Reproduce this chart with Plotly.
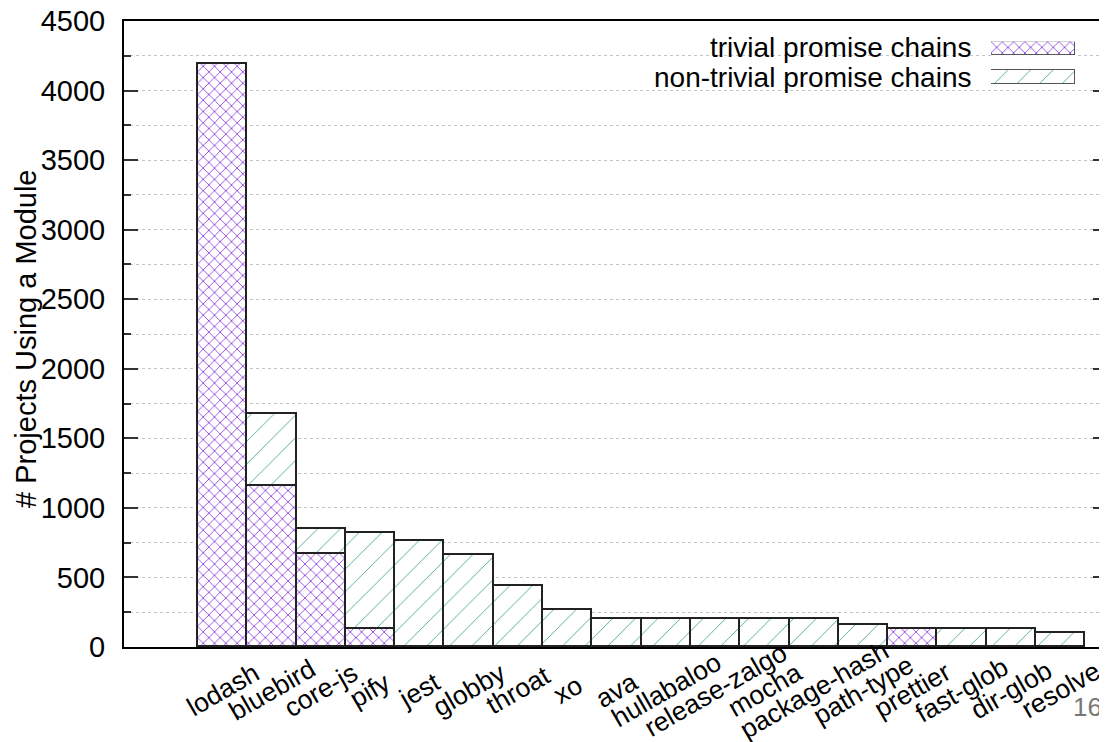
import plotly.graph_objects as go

modules = ["lodash", "bluebird", "core-js", "pify", "jest", "globby", "throat", "xo",
           "ava", "hullabaloo", "release-zalgo", "mocha", "package-hash", "path-type",
           "prettier", "fast-glob", "dir-glob", "resolve"]
trivial = [4190, 1160, 670, 128, 0, 0, 0, 0, 0, 0, 0, 0, 0, 0, 130, 0, 0, 3]
non_trivial = [0, 517, 181, 694, 765, 662, 435, 265, 203, 203, 203, 203, 203, 156, 0, 128, 128, 101]
series_names = ["trivial promise chains", "non-trivial promise chains"]
y_ticks = [0, 500, 1000, 1500, 2000, 2500, 3000, 3500, 4000, 4500]
y_title = "# Projects Using a Module"
page_number = "16"

FONT = "Liberation Sans, Arial, Helvetica, sans-serif"
PURPLE = "#8c3cdc"
GREEN = "#55ad98"

# the page body adds an 8px offset; positions below are in screen pixels
OFF = 8
W, H = 1107 - OFF, 742 - OFF
L = 124 - OFF
T = 21 - OFF
BOT = 647 - OFF
B = H - BOT
R = 0
PW, PH = W - L - R, H - T - B


def px_x(p):
    return (p - OFF - L) / PW


def px_y(p):
    return (BOT - (p - OFF)) / PH


fig = go.Figure()

outline = dict(color="#222222", width=1.6)
pat_triv = dict(shape="x", fgcolor=PURPLE, bgcolor="white", size=8, solidity=0.2, fillmode="replace")
pat_non = dict(shape="/", fgcolor=GREEN, bgcolor="white", size=16, solidity=0.06, fillmode="replace")

fig.add_trace(go.Bar(x=modules, y=trivial, name=series_names[0], width=1,
                     marker=dict(color="white", line=outline, pattern=pat_triv)))
fig.add_trace(go.Bar(x=modules, y=non_trivial, name=series_names[1], width=1,
                     marker=dict(color="white", line=outline, pattern=pat_non)))

# legend swatches drawn on a small overlay axis
sw_x0, sw_x1 = 991, 1075
sw_top, sw_bot = 41.7, 84
span = sw_bot - sw_top
sw_line = dict(color="#555555", width=1.2)
fig.add_trace(go.Bar(x=[0.5], y=[(55 - sw_top) / span], base=[(sw_bot - 55) / span], width=[1],
                     xaxis="x2", yaxis="y2", hoverinfo="skip",
                     marker=dict(color="white", line=sw_line, pattern=pat_triv)))
fig.add_trace(go.Bar(x=[0.5], y=[(sw_bot - 70) / span], base=[0], width=[1],
                     xaxis="x2", yaxis="y2", hoverinfo="skip",
                     marker=dict(color="white", line=sw_line, pattern=pat_non)))

annotations = []
for m in modules:
    annotations.append(dict(
        x=m, y=0, xref="x", yref="paper", text=m, showarrow=False,
        textangle=-30, xanchor="center", yanchor="middle", yshift=-43,
        font=dict(family=FONT, size=26.5, color="black")))
for name, yc in zip(series_names, [48, 77]):
    annotations.append(dict(
        x=px_x(973), y=px_y(yc), xref="paper", yref="paper", text=name,
        showarrow=False, xanchor="right", yanchor="middle",
        font=dict(family=FONT, size=28, color="black")))
annotations.append(dict(
    x=px_x(26), y=px_y(339), xref="paper", yref="paper", text=y_title,
    showarrow=False, textangle=-90, xanchor="center", yanchor="middle",
    font=dict(family=FONT, size=29, color="black")))
annotations.append(dict(
    x=px_x(1104), y=px_y(707), xref="paper", yref="paper", text=page_number,
    showarrow=False, xanchor="right", yanchor="middle",
    font=dict(family=FONT, size=26, color="#777777")))

fig.update_layout(
    width=W, height=H,
    margin=dict(l=L, r=R, t=T, b=B, pad=0, autoexpand=False),
    paper_bgcolor="white", plot_bgcolor="white",
    barmode="stack", bargap=0,
    font=dict(family=FONT, size=29, color="black"),
    showlegend=False,
    annotations=annotations,
    shapes=[dict(type="rect", xref="paper", yref="paper",
                 x0=px_x(519), x1=1, y0=px_y(105), y1=1,
                 fillcolor="white", line=dict(width=0), layer="between")],
    xaxis=dict(
        type="category", range=[-2, 17.94], showticklabels=False, ticks="",
        showline=True, linecolor="black", linewidth=2, mirror=True,
        showgrid=False, zeroline=False, automargin=False),
    yaxis=dict(
        range=[0, 4500], tickvals=y_ticks, ticks="inside", ticklen=14,
        tickwidth=1.5, tickcolor="#333", showline=True, linecolor="black",
        linewidth=2, mirror="allticks", zeroline=False, ticklabelstandoff=11,
        ticklabeloverflow="allow", automargin=False,
        showgrid=True, gridcolor="#c4c4c4", griddash="dot", gridwidth=1,
        minor=dict(dtick=250, ticks="inside", ticklen=7, tickwidth=1.5,
                   tickcolor="#333", showgrid=True, gridcolor="#c4c4c4",
                   griddash="dot", gridwidth=1),
        tickfont=dict(family=FONT, size=29)),
    xaxis2=dict(domain=[px_x(sw_x0), px_x(sw_x1)], range=[0, 1], anchor="y2",
                visible=False, fixedrange=True),
    yaxis2=dict(domain=[px_y(sw_bot), px_y(sw_top)], range=[0, 1], anchor="x2",
                visible=False, fixedrange=True),
)

fig.write_html("out.html")
